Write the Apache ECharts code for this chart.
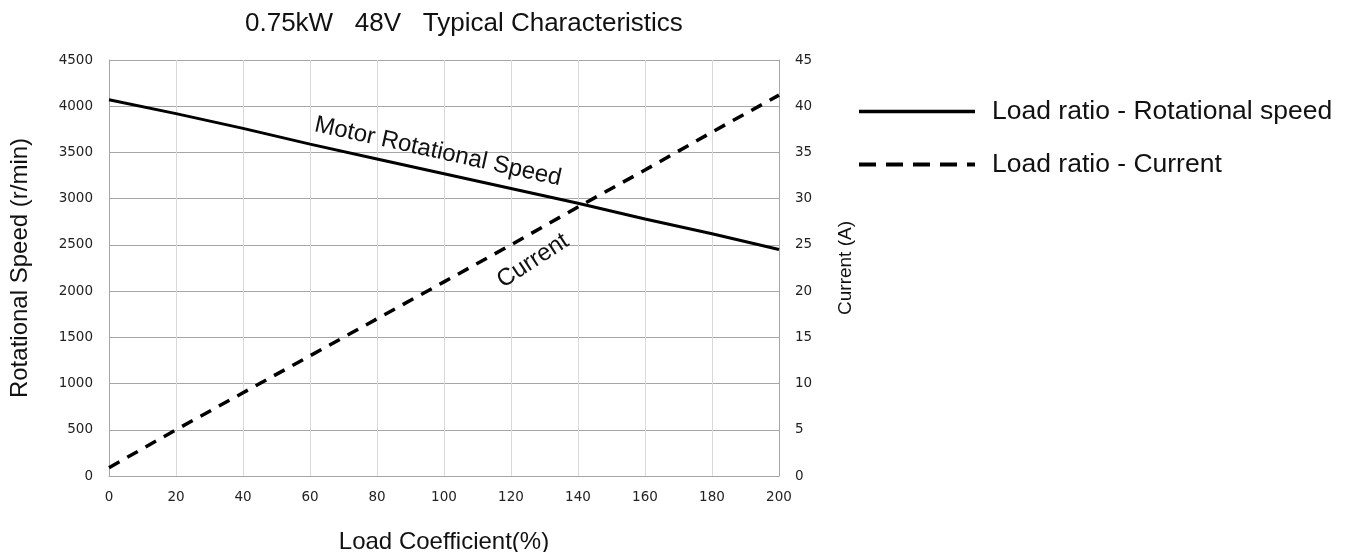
<!DOCTYPE html>
<html>
<head>
<meta charset="utf-8">
<script src="https://cdn.jsdelivr.net/npm/echarts@6/dist/echarts.min.js"></script>
<style>
  html, body { margin: 0; padding: 0; background: #ffffff; }
  #chart { width: 1347px; height: 552px; }
</style>
</head>
<body>
<div id="chart"></div>
<script>
// Load coefficient (%) along the x axis
const loadPct = [0, 20, 40, 60, 80, 100, 120, 140, 160, 180, 200];
// Motor rotational speed (r/min), left axis
const speedRpm = [4070, 3920, 3760, 3590, 3430, 3270, 3110, 2950, 2780, 2620, 2450];
// Motor current (A), right axis
const currentA = [0.9, 5.0, 9.0, 13.0, 17.0, 21.0, 25.0, 29.1, 33.1, 37.2, 41.2];

const speedName = 'Load ratio - Rotational speed';
const currentName = 'Load ratio - Current';

const tickFont = { fontFamily: 'DejaVu Sans', fontSize: 13.5, color: '#222' };
const textFont = 'Liberation Sans';
const plainNum = v => String(v);

const chart = echarts.init(document.getElementById('chart'), null, { renderer: 'canvas' });

const option = {
  animation: false,
  backgroundColor: '#ffffff',
  title: {
    text: '0.75kW   48V   Typical Characteristics',
    left: 240,
    top: 6,
    textStyle: { fontFamily: textFont, fontSize: 26, fontWeight: 'normal', color: '#111' }
  },
  legend: {
    orient: 'vertical',
    left: 852,
    top: 93,
    itemWidth: 116,
    itemHeight: 26,
    itemGap: 26,
    data: [
      { name: speedName, lineStyle: { width: 3.5, type: 'solid' } },
      { name: currentName, lineStyle: { width: 4, type: [17, 10] } }
    ],
    itemStyle: { opacity: 0 },
    textStyle: { fontFamily: textFont, fontSize: 26.5, color: '#111', padding: [0, 0, 0, 12] }
  },
  grid: { left: 109, right: 568, top: 60, bottom: 76, containLabel: false, outerBoundsMode: 'none' },
  xAxis: {
    type: 'value',
    min: 0,
    max: 200,
    interval: 20,
    name: 'Load Coefficient(%)',
    nameLocation: 'middle',
    nameGap: 54,
    nameTextStyle: { fontFamily: textFont, fontSize: 24, color: '#111' },
    axisLine: { lineStyle: { color: '#a6a6a6', width: 1 } },
    axisTick: { show: false },
    axisLabel: Object.assign({ margin: 14, formatter: plainNum }, tickFont),
    splitLine: { show: true, lineStyle: { color: '#d9d9d9', width: 1 } }
  },
  yAxis: [
    {
      type: 'value',
      min: 0,
      max: 4500,
      interval: 500,
      name: 'Rotational Speed (r/min)',
      nameLocation: 'middle',
      nameGap: 77,
      nameTextStyle: { fontFamily: textFont, fontSize: 24, color: '#111' },
      axisLine: { show: true, lineStyle: { color: '#a6a6a6', width: 1 } },
      axisTick: { show: false },
      axisLabel: Object.assign({ margin: 16, formatter: plainNum }, tickFont),
      splitLine: { show: true, lineStyle: { color: '#a6a6a6', width: 1 } }
    },
    {
      type: 'value',
      min: 0,
      max: 45,
      interval: 5,
      name: 'Current (A)',
      nameLocation: 'middle',
      nameGap: 57,
      nameTextStyle: { fontFamily: textFont, fontSize: 19, color: '#111' },
      axisLine: { show: true, lineStyle: { color: '#a6a6a6', width: 1 } },
      axisTick: { show: false },
      axisLabel: Object.assign({ margin: 16, formatter: plainNum }, tickFont),
      splitLine: { show: false }
    }
  ],
  series: [
    {
      name: speedName,
      type: 'line',
      yAxisIndex: 0,
      symbol: 'none',
      data: loadPct.map((x, i) => [x, speedRpm[i]]),
      lineStyle: { color: '#000', width: 3, type: 'solid' },
      itemStyle: { color: '#000' },
      z: 3
    },
    {
      name: currentName,
      type: 'line',
      yAxisIndex: 1,
      symbol: 'none',
      data: loadPct.map((x, i) => [x, currentA[i]]),
      lineStyle: { color: '#000', width: 3.5, type: [12, 9] },
      itemStyle: { color: '#000' },
      z: 3
    }
  ]
};

chart.setOption(option);

// Rotated captions laid along each curve, anchored on data points
function pixelOf(x, y, axisIdx) {
  return chart.convertToPixel({ xAxisIndex: 0, yAxisIndex: axisIdx }, [x, y]);
}
const sp = pixelOf(loadPct[5], speedRpm[5], 0);
const cp = pixelOf(loadPct[6], currentA[6], 1);
chart.setOption({
  graphic: [
    {
      type: 'text',
      x: sp[0] - 6,
      y: sp[1] - 22,
      rotation: -12.5 * Math.PI / 180,
      style: {
        text: 'Motor Rotational Speed',
        x: 0, y: 0,
        align: 'center',
        verticalAlign: 'middle',
        font: '24px "Liberation Sans"',
        fill: '#111'
      },
      z: 10
    },
    {
      type: 'text',
      x: cp[0] + 22,
      y: cp[1] + 16,
      rotation: 33 * Math.PI / 180,
      style: {
        text: 'Current',
        x: 0, y: 0,
        align: 'center',
        verticalAlign: 'middle',
        font: '24px "Liberation Sans"',
        fill: '#111'
      },
      z: 10
    }
  ]
});
</script>
</body>
</html>
